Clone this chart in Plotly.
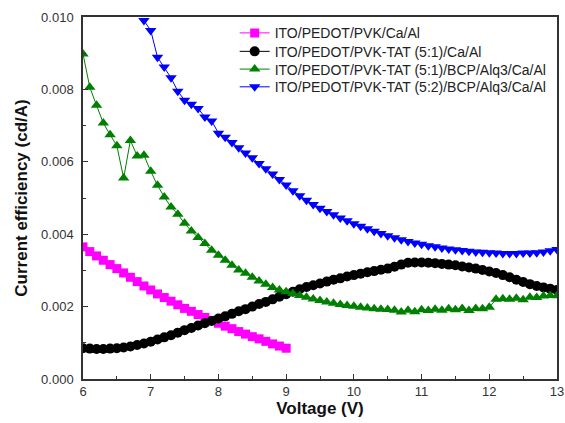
import plotly.graph_objects as go

# voltage steps (V)
volt_pvk = [6.0, 6.1, 6.2, 6.3, 6.4, 6.5, 6.6, 6.7, 6.8, 6.9,
            7.0, 7.1, 7.2, 7.3, 7.4, 7.5, 7.6, 7.7, 7.8, 7.9,
            8.0, 8.1, 8.2, 8.3, 8.4, 8.5, 8.6, 8.7, 8.8, 8.9, 9.0]
volt_full = [6.0, 6.1, 6.2, 6.3, 6.4, 6.5, 6.6, 6.7, 6.8, 6.9,
             7.0, 7.1, 7.2, 7.3, 7.4, 7.5, 7.6, 7.7, 7.8, 7.9,
             8.0, 8.1, 8.2, 8.3, 8.4, 8.5, 8.6, 8.7, 8.8, 8.9,
             9.0, 9.1, 9.2, 9.3, 9.4, 9.5, 9.6, 9.7, 9.8, 9.9,
             10.0, 10.1, 10.2, 10.3, 10.4, 10.5, 10.6, 10.7, 10.8, 10.9,
             11.0, 11.1, 11.2, 11.3, 11.4, 11.5, 11.6, 11.7, 11.8, 11.9,
             12.0, 12.1, 12.2, 12.3, 12.4, 12.5, 12.6, 12.7, 12.8, 12.9, 13.0]
volt_52 = [6.9,
           7.0, 7.1, 7.2, 7.3, 7.4, 7.5, 7.6, 7.7, 7.8, 7.9,
           8.0, 8.1, 8.2, 8.3, 8.4, 8.5, 8.6, 8.7, 8.8, 8.9,
           9.0, 9.1, 9.2, 9.3, 9.4, 9.5, 9.6, 9.7, 9.8, 9.9,
           10.0, 10.1, 10.2, 10.3, 10.4, 10.5, 10.6, 10.7, 10.8, 10.9,
           11.0, 11.1, 11.2, 11.3, 11.4, 11.5, 11.6, 11.7, 11.8, 11.9,
           12.0, 12.1, 12.2, 12.3, 12.4, 12.5, 12.6, 12.7, 12.8, 12.9, 13.0]

# current efficiency (cd/A)
eff_pvk = [0.00365, 0.00352, 0.00340, 0.00328, 0.00316, 0.00305, 0.00293, 0.00281, 0.00269, 0.00257,
           0.00246, 0.00235, 0.00225, 0.00215, 0.00205, 0.00195, 0.00187, 0.00178, 0.00170, 0.00162,
           0.00154, 0.00146, 0.00139, 0.00131, 0.00124, 0.00117, 0.00111, 0.00104, 0.00097, 0.00091, 0.00085]
eff_tat51 = [0.00085, 0.00084, 0.00083, 0.00083, 0.00084, 0.00085, 0.00087, 0.00090, 0.00094, 0.00098,
             0.00103, 0.00109, 0.00115, 0.00121, 0.00128, 0.00135, 0.00141, 0.00148, 0.00154, 0.00160,
             0.00167, 0.00173, 0.00180, 0.00187, 0.00193, 0.00200, 0.00207, 0.00213, 0.00220, 0.00227,
             0.00234, 0.00241, 0.00248, 0.00254, 0.00259, 0.00264, 0.00269, 0.00274, 0.00278, 0.00283,
             0.00287, 0.00291, 0.00295, 0.00298, 0.00302, 0.00305, 0.00310, 0.00316, 0.00321, 0.00322,
             0.00322, 0.00321, 0.00320, 0.00318, 0.00316, 0.00314, 0.00311, 0.00308, 0.00305, 0.00301,
             0.00297, 0.00293, 0.00287, 0.00281, 0.00274, 0.00268, 0.00262, 0.00257, 0.00253, 0.00249, 0.00246]
eff_tat51_bcp = [0.00898, 0.00806, 0.00756, 0.00707, 0.00675, 0.00644, 0.00555, 0.00659, 0.00616, 0.00618,
                 0.00574, 0.00535, 0.00503, 0.00475, 0.00455, 0.00430, 0.00409, 0.00391, 0.00374, 0.00356,
                 0.00342, 0.00328, 0.00314, 0.00301, 0.00292, 0.00281, 0.00271, 0.00262, 0.00253, 0.00246,
                 0.00241, 0.00236, 0.00231, 0.00226, 0.00221, 0.00217, 0.00213, 0.00209, 0.00206, 0.00203,
                 0.00201, 0.00198, 0.00196, 0.00194, 0.00193, 0.00192, 0.00190, 0.00185, 0.00190, 0.00186,
                 0.00191, 0.00189, 0.00193, 0.00190, 0.00194, 0.00191, 0.00195, 0.00189, 0.00195, 0.00194,
                 0.00198, 0.00220, 0.00222, 0.00220, 0.00223, 0.00219, 0.00226, 0.00225, 0.00229, 0.00231, 0.00230]
eff_tat52_bcp = [0.00990,
                 0.00963, 0.00889, 0.00862, 0.00832, 0.00795, 0.00770, 0.00759, 0.00747, 0.00724, 0.00713,
                 0.00679, 0.00668, 0.00653, 0.00639, 0.00624, 0.00611, 0.00595, 0.00581, 0.00566, 0.00551,
                 0.00536, 0.00520, 0.00506, 0.00494, 0.00482, 0.00472, 0.00463, 0.00454, 0.00445, 0.00437,
                 0.00429, 0.00422, 0.00415, 0.00408, 0.00402, 0.00396, 0.00390, 0.00385, 0.00380, 0.00376,
                 0.00372, 0.00368, 0.00365, 0.00362, 0.00359, 0.00357, 0.00355, 0.00353, 0.00351, 0.00350,
                 0.00349, 0.00348, 0.00347, 0.00347, 0.00347, 0.00348, 0.00348, 0.00349, 0.00351, 0.00354, 0.00358]

FONT = "Liberation Sans, Arial"

fig = go.Figure()

fig.add_trace(go.Scatter(x=volt_pvk, y=eff_pvk, mode="lines+markers",
                         name="ITO/PEDOT/PVK/Ca/Al", legend="legend",
                         line=dict(color="#ff00ff", width=1),
                         marker=dict(symbol="square", size=9, color="#ff00ff")))
fig.add_trace(go.Scatter(x=volt_full, y=eff_tat51, mode="lines+markers",
                         name="ITO/PEDOT/PVK-TAT (5:1)/Ca/Al", legend="legend2",
                         line=dict(color="#000000", width=1),
                         marker=dict(symbol="circle", size=10, color="#000000")))
fig.add_trace(go.Scatter(x=volt_full, y=eff_tat51_bcp, mode="lines+markers",
                         name="ITO/PEDOT/PVK-TAT (5:1)/BCP/Alq3/Ca/Al", legend="legend3",
                         line=dict(color="#008000", width=1),
                         marker=dict(symbol="triangle-up", size=10, color="#008000")))
fig.add_trace(go.Scatter(x=volt_52, y=eff_tat52_bcp, mode="lines+markers",
                         name="ITO/PEDOT/PVK-TAT (5:2)/BCP/Alq3/Ca/Al", legend="legend4",
                         line=dict(color="#0000ff", width=1),
                         marker=dict(symbol="triangle-down", size=10, color="#0000ff")))

axis_style = dict(showline=True, linecolor="#333333", linewidth=1.5, mirror=True,
                  ticks="inside", ticklen=5, tickwidth=1.2, tickcolor="#333333",
                  showgrid=False, zeroline=False, automargin=False,
                  tickfont=dict(family=FONT, size=13, color="#333333"))

fig.update_xaxes(range=[6, 13], dtick=1,
                 title=dict(text="<b>Voltage (V)</b>", standoff=2,
                            font=dict(family=FONT, size=17, color="#111111")),
                 minor=dict(ticks="inside", ticklen=3, dtick=0.5, tickcolor="#333333"),
                 **axis_style)
fig.update_yaxes(range=[0, 0.010], dtick=0.002, tickformat=".3f", ticklabelstandoff=5,
                 title=dict(text="<b>Current efficiency (cd/A)</b>", standoff=9,
                            font=dict(family=FONT, size=17, color="#111111")),
                 minor=dict(ticks="inside", ticklen=3, dtick=0.001, tickcolor="#333333"),
                 **axis_style)

legend_base = dict(x=0.32, xanchor="left", yanchor="middle",
                   bgcolor="rgba(0,0,0,0)",
                   font=dict(family=FONT, size=14, color="#222222"))

fig.update_layout(
    width=565, height=423,
    margin=dict(l=83, r=8, t=17, b=44),
    paper_bgcolor="white", plot_bgcolor="white",
    font=dict(family=FONT, color="#222222"),
    showlegend=True,
    legend=dict(y=0.955, **legend_base),
    legend2=dict(y=0.904, **legend_base),
    legend3=dict(y=0.855, **legend_base),
    legend4=dict(y=0.806, **legend_base),
)

# drop the default page margin so the figure sits at the window's corner
fig.write_html("out.html", config={"displayModeBar": False},
               post_script="document.body.style.margin = '0';")
